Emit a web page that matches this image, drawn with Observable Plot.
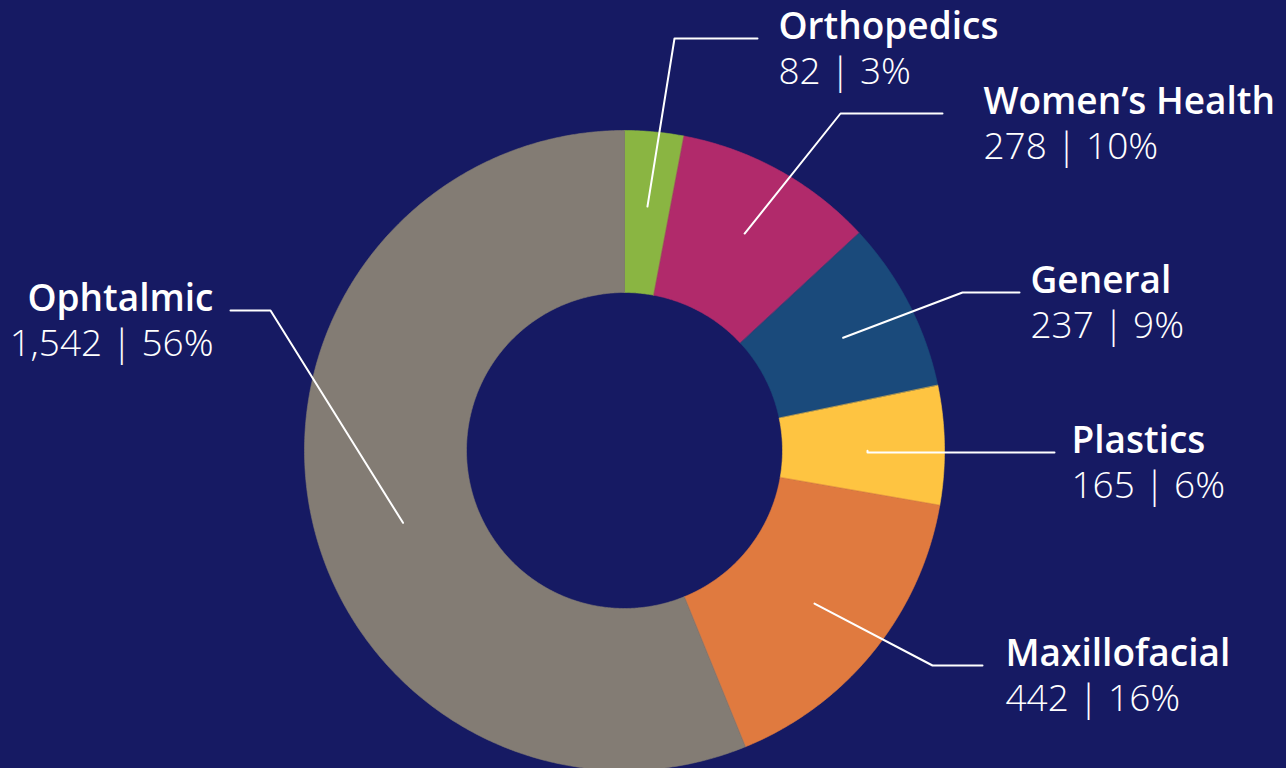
<!DOCTYPE html>
<html>
<head>
<meta charset="utf-8">
<script src="https://cdn.jsdelivr.net/npm/d3@7"></script>
<script src="https://cdn.jsdelivr.net/npm/@observablehq/plot@0.6"></script>
<style>
  html, body { margin: 0; padding: 0; background: #161a63; overflow: hidden; }
  #chart svg { display: block; }
</style>
</head>
<body>
<div id="chart"></div>
<script>
// ---- data ----
const categories = ["Orthopedics", "Women’s Health", "General", "Plastics", "Maxillofacial", "Ophtalmic"];
const counts = [82, 278, 237, 165, 442, 1542];
const colors = ["#8ab542", "#b12a6b", "#1a4a7b", "#fec441", "#e07a3f", "#837c74"];

// ---- layout (chart units: pixels relative to donut centre) ----
const W = 1286, H = 768;
const CX = 624, CY = 450;
const R_OUT = 320, R_IN = 158;
// per-label leader start (angle shift in degrees, radius), elbow, end of leader, text anchor x, text side
const leaderShift = [0, 0, 0, 1, 0, -7];
const leaderR = [245, 248, 246, 243, 244, 233];
const elbowX = [50, 216, 338, 243, 308, -354];
const labelY = [-412, -337, -158, 2, 215, -140];
const leaderEndX = [133, 318, 395, 430, 358, -394];
const textX = [154, 359, 406, 447, 381, -411];
const textSide = ["start", "start", "start", "start", "start", "end"];
const VALUE_GAP = 45;
const FONT_SIZE = 37;

const total = d3.sum(counts);
const fmt = d3.format(",");
const pie = d3.pie().sort(null).value(d => d)(counts);

// slice polygons
const slicePts = [];
pie.forEach((p, i) => {
  const n = Math.max(4, Math.ceil((p.endAngle - p.startAngle) / (Math.PI / 360)));
  for (let k = 0; k <= n; k++) {
    const a = p.startAngle + (p.endAngle - p.startAngle) * k / n;
    slicePts.push({cat: categories[i], x: R_OUT * Math.sin(a), y: -R_OUT * Math.cos(a)});
  }
  for (let k = n; k >= 0; k--) {
    const a = p.startAngle + (p.endAngle - p.startAngle) * k / n;
    slicePts.push({cat: categories[i], x: R_IN * Math.sin(a), y: -R_IN * Math.cos(a)});
  }
});

// leader lines
const leaderPts = [];
pie.forEach((p, i) => {
  const a = (p.startAngle + p.endAngle) / 2 + leaderShift[i] * Math.PI / 180;
  leaderPts.push({cat: categories[i], x: leaderR[i] * Math.sin(a), y: -leaderR[i] * Math.cos(a)});
  leaderPts.push({cat: categories[i], x: elbowX[i], y: labelY[i]});
  leaderPts.push({cat: categories[i], x: leaderEndX[i], y: labelY[i]});
});

const labels = categories.map((c, i) => ({
  cat: c,
  x: textX[i],
  y: labelY[i],
  side: textSide[i],
  value: `${fmt(counts[i])} | ${Math.round(counts[i] / total * 100)}%`
}));

const font = "'Open Sans', 'Noto Sans', sans-serif";
const fontLight = "'Open Sans Light', 'Open Sans', 'Noto Sans', sans-serif";

const chart = Plot.plot({
  width: W,
  height: H,
  margin: 0,
  style: {background: "#161a63", overflow: "hidden"},
  x: {domain: [-CX, W - CX], range: [0, W], axis: null},
  y: {domain: [-CY, H - CY], range: [0, H], axis: null},
  color: {domain: categories, range: colors},
  marks: [
    Plot.line(slicePts, {x: "x", y: "y", z: "cat", fill: "cat", stroke: "cat", strokeWidth: 0.6, curve: "linear-closed"}),
    Plot.line(leaderPts, {x: "x", y: "y", z: "cat", stroke: "white", strokeWidth: 2}),
    Plot.text(labels.filter(d => d.side === "start"), {x: "x", y: "y", text: "cat", textAnchor: "start", lineAnchor: "bottom", fill: "white", fontSize: FONT_SIZE, fontWeight: 600, fontFamily: font}),
    Plot.text(labels.filter(d => d.side === "end"), {x: "x", y: "y", text: "cat", textAnchor: "end", lineAnchor: "bottom", fill: "white", fontSize: FONT_SIZE, fontWeight: 600, fontFamily: font}),
    Plot.text(labels.filter(d => d.side === "start"), {x: "x", y: d => d.y + VALUE_GAP, text: "value", textAnchor: "start", lineAnchor: "bottom", fill: "white", fontSize: FONT_SIZE, fontWeight: 300, fontFamily: fontLight}),
    Plot.text(labels.filter(d => d.side === "end"), {x: "x", y: d => d.y + VALUE_GAP, text: "value", textAnchor: "end", lineAnchor: "bottom", fill: "white", fontSize: FONT_SIZE, fontWeight: 300, fontFamily: fontLight})
  ]
});
document.getElementById("chart").append(chart);
</script>
</body>
</html>
